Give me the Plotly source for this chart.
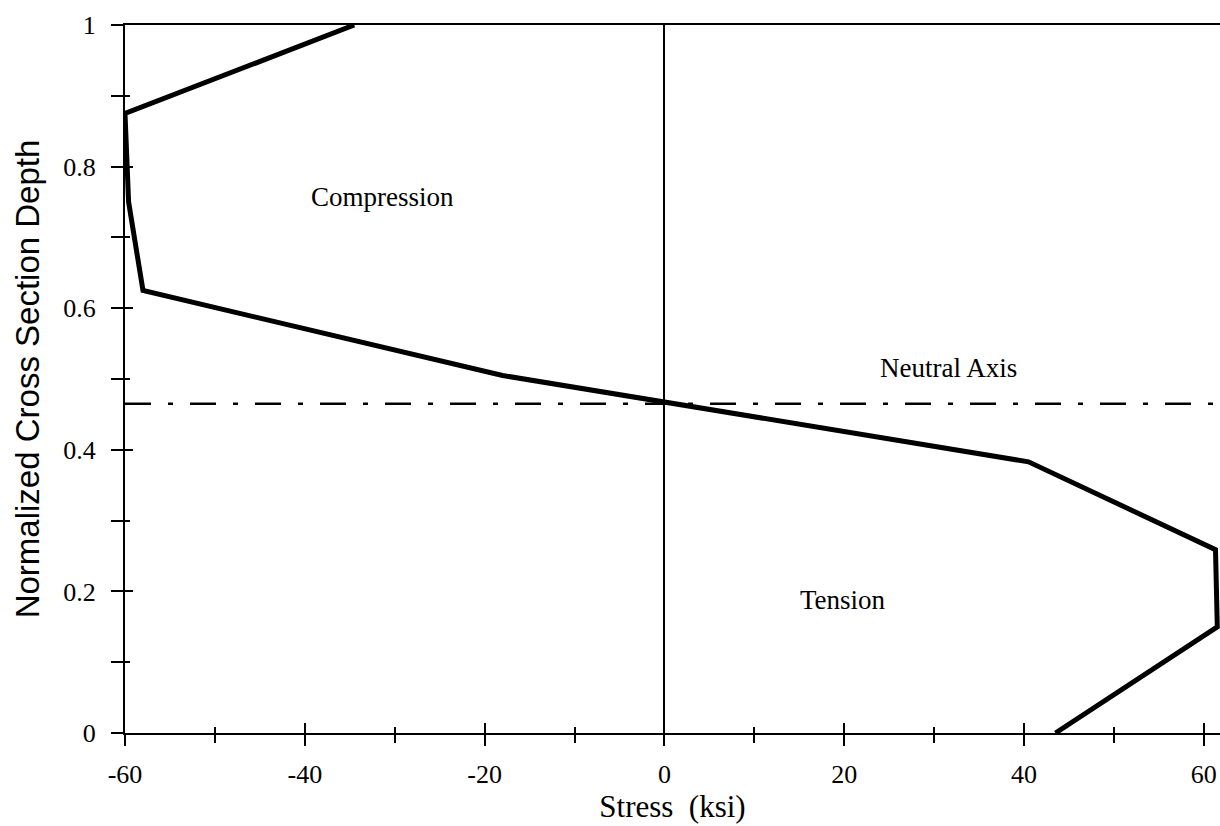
import plotly.graph_objects as go

# Stress profile through the normalized cross-section depth
stress_ksi = [-34.5, -60.0, -59.6, -58.0, -18.0, 40.5, 61.3, 61.5, 43.5]
depth = [1.0, 0.875, 0.75, 0.625, 0.505, 0.383, 0.259, 0.150, 0.0]

neutral_axis_depth = 0.465

x_tick_vals = [-60, -40, -20, 0, 20, 40, 60]
x_tick_text = ["-60", "-40", "-20", "0", "20", "40", "60"]
y_tick_vals = [0, 0.2, 0.4, 0.6, 0.8, 1]
y_tick_text = ["0", "0.2", "0.4", "0.6", "0.8", "1"]

region_labels = ["Compression", "Neutral Axis", "Tension"]
region_x = [-31.4, 31.6, 19.9]
region_y = [0.757, 0.516, 0.188]

X_RANGE = [-60, 61.8]
Y_RANGE = [0, 1]

serif = "Liberation Serif, Times New Roman, serif"
sans = "Liberation Sans, Arial, sans-serif"

fig = go.Figure()

# the curve sits on the overlay axes so that they (and their inner ticks) get drawn
fig.add_trace(go.Scatter(
    x=stress_ksi, y=depth, mode="lines",
    line=dict(color="black", width=5),
    xaxis="x2", yaxis="y2",
    showlegend=False, hoverinfo="skip",
))

fig.add_hline(
    y=neutral_axis_depth,
    line=dict(color="black", width=2.5, dash="26px,17px,5px,17px"),
)

for txt, xv, yv in zip(region_labels, region_x, region_y):
    fig.add_annotation(
        x=xv, y=yv, text=txt, showarrow=False,
        font=dict(family=serif, size=27, color="black"),
    )

fig.update_layout(
    width=1220, height=826,
    margin=dict(l=125, r=0, t=25, b=93),
    paper_bgcolor="white", plot_bgcolor="white",
    showlegend=False,
    xaxis=dict(
        range=X_RANGE, tickvals=x_tick_vals, ticktext=x_tick_text,
        ticks="outside", ticklen=11, tickwidth=2, tickcolor="black",
        minor=dict(dtick=10, tick0=0, ticks="outside", ticklen=8, tickwidth=2, tickcolor="black"),
        showline=True, linecolor="black", linewidth=2, mirror=True,
        showgrid=False, zeroline=True, zerolinecolor="black", zerolinewidth=2,
        tickfont=dict(family=serif, size=26, color="black"),
        ticklabelstandoff=6,
        title=dict(text="Stress\u00a0 (ksi)", standoff=4,
                   font=dict(family=serif, size=31, color="black")),
    ),
    yaxis=dict(
        range=Y_RANGE, tickvals=y_tick_vals, ticktext=y_tick_text,
        ticks="outside", ticklen=12, tickwidth=2, tickcolor="black",
        minor=dict(dtick=0.1, tick0=0, ticks="outside", ticklen=12, tickwidth=2, tickcolor="black"),
        showline=True, linecolor="black", linewidth=2, mirror=False,
        showgrid=False, zeroline=False,
        tickfont=dict(family=serif, size=26, color="black"),
        ticklabelstandoff=10,
        title=dict(text="Normalized Cross Section Depth", standoff=14,
                   font=dict(family=sans, size=33, color="black")),
    ),
    # overlay axes carry the inner half of each tick so ticks cross the axis lines
    xaxis2=dict(
        overlaying="x", anchor="y2", side="bottom", range=X_RANGE,
        tickvals=x_tick_vals, ticks="inside", ticklen=10, tickwidth=2, tickcolor="black",
        minor=dict(dtick=10, tick0=0, ticks="inside", ticklen=6, tickwidth=2, tickcolor="black"),
        showticklabels=False, showline=False, showgrid=False, zeroline=False,
    ),
    yaxis2=dict(
        overlaying="y", anchor="x2", side="left", range=Y_RANGE,
        tickvals=y_tick_vals, ticks="inside", ticklen=8, tickwidth=2, tickcolor="black",
        minor=dict(dtick=0.1, tick0=0, ticks="inside", ticklen=5, tickwidth=2, tickcolor="black"),
        showticklabels=False, showline=False, showgrid=False, zeroline=False,
    ),
)

fig.write_html("out.html")
